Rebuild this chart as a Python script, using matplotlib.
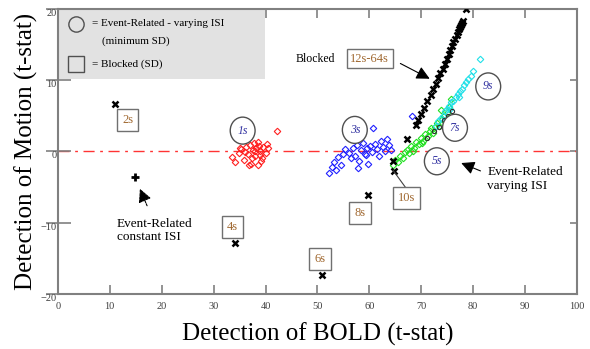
import matplotlib
matplotlib.use('Agg')
import matplotlib.pyplot as plt

plt.rcParams['font.family'] = ['Liberation Serif', 'DejaVu Serif']

# event-related, varying ISI (1s / 3s / 5s / 7s / 9s clouds)
red_x = [33.5, 34.2, 34.8, 35.3, 35.9, 36.3, 36.6, 37.0, 37.2, 37.5, 37.8, 38.0, 38.2, 38.5, 38.7,
         39.0, 39.3, 39.6, 40.0, 40.4, 36.0, 37.4, 38.6, 39.2, 35.0, 37.9, 38.9, 36.8, 40.2, 42.3]
red_y = [-0.8, -1.5, -0.2, 0.3, -1.2, 0.6, -0.4, 0.9, -1.8, 0.2, 1.1, -0.6, 0.5, -1.9, 0.8,
         0.1, -0.9, 0.6, -0.3, 0.4, -0.1, -1.0, 1.3, -1.4, 0.4, 0.0, -0.5, -1.9, 1.0, 2.8]

blue_x = [52.3, 52.8, 53.2, 53.6, 54.0, 54.5, 55.3, 56.0, 56.4, 56.8, 57.2, 57.6, 58.0, 58.3, 58.7,
          59.1, 59.5, 59.8, 60.2, 60.6, 61.0, 61.4, 61.8, 62.2, 62.6, 63.0, 63.4, 63.8, 64.2, 60.7,
          68.3, 55.0, 57.9, 59.3]
blue_y = [-3.0, -2.2, -1.5, -2.6, -0.8, -1.9, 0.3, -0.2, -1.0, 0.4, -0.6, 0.9, -1.4, 0.2, 1.2,
          -0.4, 0.5, -1.8, 0.8, -0.1, 1.0, 0.3, -0.7, 1.5, 0.6, 0.0, 1.7, 0.9, 0.2, 3.2,
          4.9, -0.4, -2.4, -0.5]

green_x = [64.6, 65.0, 65.5, 65.9, 66.4, 66.8, 67.3, 67.7, 68.1, 68.6, 69.0, 69.5, 69.9, 70.4, 70.8,
           71.3, 71.7, 72.2, 72.6, 73.1, 73.5, 74.0, 74.4, 74.9, 75.3, 75.8, 68.4, 70.1, 71.9, 73.8]
green_y = [-1.9, -1.2, -1.5, -0.6, -0.9, -0.1, 0.2, -0.3, 0.8, 0.5, 1.3, 1.0, 1.8, 1.5, 2.4,
           2.1, 2.9, 2.6, 3.4, 3.9, 3.6, 4.5, 4.9, 5.4, 6.2, 7.4, 0.1, 1.1, 3.2, 5.8]

cyan_x = [72.8, 73.3, 73.8, 74.2, 74.6, 75.0, 75.4, 75.8, 76.2, 76.6, 77.0, 77.4, 77.8, 78.2, 78.6,
          79.0, 79.5, 80.0, 81.3, 75.6, 77.2]
cyan_y = [3.6, 4.2, 4.7, 5.0, 5.6, 5.9, 6.4, 6.9, 7.1, 7.6, 8.0, 8.5, 8.8, 9.3, 9.7,
          10.1, 10.6, 11.3, 12.9, 6.0, 7.6]

dark_x = [71.1, 72.4, 73.4, 74.3, 75.1, 75.9]
dark_y = [1.9, 2.8, 3.4, 4.4, 5.0, 5.7]

# blocked designs
block_x = [64.5, 64.7, 67.2, 69.0, 69.3, 70.0, 70.6, 71.2, 71.8, 72.3, 72.8, 73.3, 73.7, 74.1, 74.5,
           74.9, 75.3, 75.6, 75.9, 76.2, 76.5, 76.8, 77.0, 77.2, 77.4, 77.6, 77.8, 78.0, 78.6,
           11.0, 34.1, 50.9, 59.7]
block_y = [-1.4, -2.7, 1.7, 3.7, 4.4, 5.2, 6.1, 7.0, 7.9, 8.7, 9.4, 10.3, 11.0, 11.6, 12.3,
           12.9, 13.6, 14.2, 14.8, 15.3, 15.8, 16.3, 16.7, 17.1, 17.4, 17.7, 18.0, 18.3, 19.9,
           6.6, -12.9, -17.4, -6.1]

# event-related, constant ISI
const_x = [14.8]
const_y = [-3.6]

box_labels = ['2s', '4s', '6s', '8s', '10s']
box_x = [13.5, 33.7, 50.5, 58.2, 67.2]
box_y = [4.4, -10.6, -15.1, -8.7, -6.6]

ell_labels = ['1s', '3s', '5s', '7s', '9s']
ell_x = [35.6, 57.2, 73.0, 76.5, 82.9]
ell_y = [2.9, 3.0, -1.4, 3.3, 9.1]

fig = plt.figure(figsize=(5.9, 3.49), dpi=100)
ax = fig.add_axes([0.098, 0.158, 0.88, 0.817])

ax.axhline(0, color='#ff3333', lw=1.0, ls=(0, (8, 4, 2, 4)), zorder=1)

mk = dict(marker='D', ms=3.3, mfc='none', mew=0.8, ls='none', zorder=3)
ax.plot(red_x, red_y, mec='#ff2020', **mk)
ax.plot(blue_x, blue_y, mec='#2020ff', **mk)
ax.plot(green_x, green_y, mec='#20e020', **mk)
ax.plot(cyan_x, cyan_y, mec='#20e0e8', **mk)
ax.plot(dark_x, dark_y, marker='o', ms=3, mfc='none', mec='#303030', mew=0.8, ls='none', zorder=3)
ax.plot(block_x, block_y, marker='x', ms=3.8, mew=1.8, color='black', ls='none', zorder=4)
ax.plot(const_x, const_y, marker='+', ms=6, mew=2, color='black', ls='none', zorder=4)

for lab, x, y in zip(box_labels, box_x, box_y):
    ax.text(x, y, lab, ha='center', va='center', fontsize=9, color='#a06830', zorder=5,
            bbox=dict(boxstyle='square,pad=0.4', fc='white', ec='#707070', lw=1.0))

for lab, x, y in zip(ell_labels, ell_x, ell_y):
    ax.text(x, y, lab, ha='center', va='center', fontsize=8.5, color='#3030a0', style='italic',
            zorder=5, bbox=dict(boxstyle='ellipse,pad=0.3', fc='white', ec='#505050', lw=1.0))

# leader for 10s
ax.plot([66.9, 64.6], [-5.0, -2.7], color='#404040', lw=0.8, zorder=4)

# blocked annotation
ax.text(49.5, 13.0, 'Blocked', ha='center', va='center', fontsize=8.5)
ax.text(60.1, 13.0, '12s-64s', ha='center', va='center', fontsize=9, color='#a06830', zorder=5,
        bbox=dict(boxstyle='square,pad=0.3', fc='white', ec='#707070', lw=1.0))
ax.annotate('', xy=(72.1, 10.0), xytext=(65.5, 12.5),
            arrowprops=dict(arrowstyle='-|>,head_length=0.8,head_width=0.4', color='black', lw=0.8))

ax.text(82.7, -3.9, 'Event-Related\nvarying ISI', ha='left', va='center', fontsize=9.5,
        linespacing=1.15)
ax.annotate('', xy=(77.2, -1.5), xytext=(81.9, -2.9),
            arrowprops=dict(arrowstyle='-|>,head_length=0.8,head_width=0.4', color='black', lw=0.8))

ax.text(11.4, -11.1, 'Event-Related\nconstant ISI', ha='left', va='center', fontsize=9.5,
        linespacing=1.15)
ax.annotate('', xy=(15.6, -4.9), xytext=(17.4, -8.0),
            arrowprops=dict(arrowstyle='-|>,head_length=0.8,head_width=0.4', color='black', lw=0.8,
                            ls=(0, (2, 1))))

# key box in the upper-left corner
ax.add_patch(plt.Rectangle((0, 10.2), 39.9, 9.8, fc='#e2e2e2', ec='none', zorder=2))
ax.plot([3.5], [17.9], marker='o', ms=11, mfc='none', mec='#505050', mew=1.0, zorder=3)
ax.plot([3.5], [12.2], marker='s', ms=12, mfc='none', mec='#505050', mew=1.0, zorder=3)
ax.text(6.5, 17.9, '= Event-Related - varying ISI', ha='left', va='center', fontsize=8, zorder=3)
ax.text(8.5, 15.4, '(minimum SD)', ha='left', va='center', fontsize=8, zorder=3)
ax.text(6.5, 12.2, '= Blocked (SD)', ha='left', va='center', fontsize=8, zorder=3)

ax.set_xlim(0, 100)
ax.set_ylim(-20, 20)
ax.set_xticks(range(0, 101, 10))
ax.set_yticks([-20, -10, 0, 10, 20])
for s in ax.spines.values():
    s.set_color('#808080')
    s.set_linewidth(1.5)

ax.tick_params(axis='x', which='both', direction='in', length=6.5, width=1.2, color='#808080',
               labelsize=7.5, labelcolor='#404040', top=True, pad=6)
ax.tick_params(axis='y', which='both', direction='inout', length=18, width=1.2, color='#808080',
               labelsize=7.5, labelcolor='#404040', pad=-8)
for t in ax.get_yticklabels():
    t.set_verticalalignment('top')

ax.set_xlabel('Detection of BOLD (t-stat)', fontsize=18, labelpad=8)
ax.set_ylabel('Detection of Motion (t-stat)', fontsize=18, labelpad=2)

# right side inward ticks
axr = ax.secondary_yaxis('right')
axr.set_yticks([-10, 0, 10])
axr.tick_params(direction='in', length=5, width=1.2, color='#808080', labelright=False)
axr.spines['right'].set_visible(False)

fig.savefig('out.png', dpi=100)
